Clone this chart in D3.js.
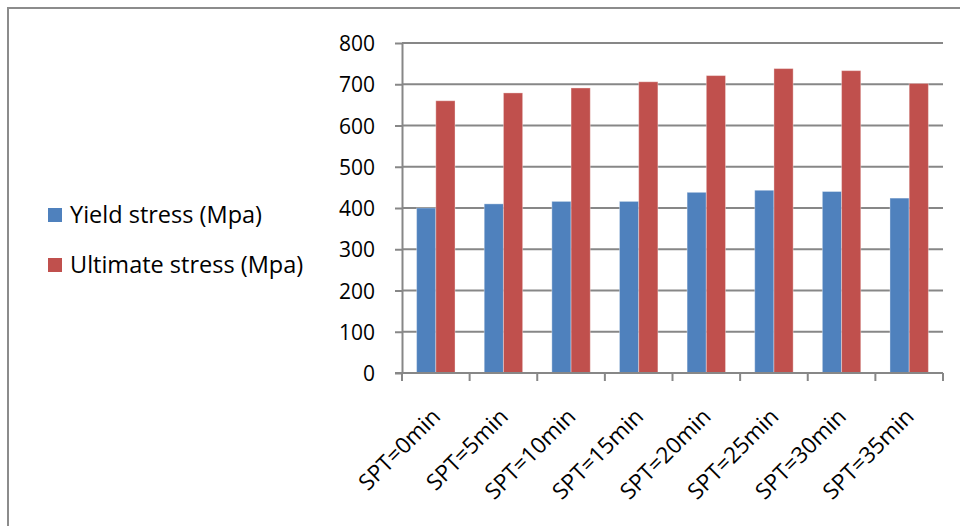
<!DOCTYPE html>
<html>
<head>
<meta charset="utf-8">
<script src="https://cdn.jsdelivr.net/npm/d3@7"></script>
<style>
  html, body { margin: 0; padding: 0; background: #fff; }
  svg { display: block; }
  text { font-family: "Open Sans", "Noto Sans", "Liberation Sans", sans-serif; fill: #000; }
</style>
</head>
<body>
<svg id="chart" width="960" height="526"></svg>
<script>
// Stress measurements per soaking period
const categories = ["SPT=0min", "SPT=5min", "SPT=10min", "SPT=15min", "SPT=20min", "SPT=25min", "SPT=30min", "SPT=35min"];
const seriesNames = ["Yield stress (Mpa)", "Ultimate stress (Mpa)"];
const yieldStress = [400, 410, 416, 416, 438, 443, 440, 424];
const ultimateStress = [660, 679, 691, 706, 721, 738, 733, 702];
const yTicks = [0, 100, 200, 300, 400, 500, 600, 700, 800];
const colors = ["#4F81BD", "#C0504D"];

const svg = d3.select("#chart");
const W = 960, H = 526;
const plot = { left: 402, right: 943, top: 43, bottom: 373 };

// outer frame
svg.append("rect")
  .attr("x", 8).attr("y", 8)
  .attr("width", W + 20).attr("height", H + 20)
  .attr("fill", "none").attr("stroke", "#8c8c8c").attr("stroke-width", 2);

const x = d3.scaleBand().domain(categories).range([plot.left, plot.right]).padding(0);
const sub = d3.scaleBand().domain(seriesNames).range([0, x.bandwidth()]).paddingInner(0).paddingOuter(0.76);
const y = d3.scaleLinear().domain([0, 800]).range([plot.bottom, plot.top]);

// horizontal gridlines
svg.append("g").selectAll("line").data(yTicks.filter(d => d > 0)).join("line")
  .attr("x1", plot.left).attr("x2", plot.right)
  .attr("y1", d => y(d)).attr("y2", d => y(d))
  .attr("stroke", "#878787").attr("stroke-width", 2);

// bars
const series = [yieldStress, ultimateStress];
const groups = svg.append("g").selectAll("g").data(categories).join("g")
  .attr("transform", d => `translate(${x(d)},0)`);
groups.selectAll("rect").data((c, i) => seriesNames.map((s, k) => ({ s, k, v: series[k][i] }))).join("rect")
  .attr("x", d => sub(d.s))
  .attr("width", sub.bandwidth())
  .attr("y", d => y(d.v))
  .attr("height", d => y(0) - y(d.v))
  .attr("fill", d => colors[d.k])
  .attr("stroke", "rgba(255,255,255,0.35)").attr("stroke-width", 1);

// y axis
const yAxis = d3.axisLeft(y).tickValues(yTicks).tickSize(7).tickSizeOuter(0);
const yg = svg.append("g").attr("transform", `translate(${plot.left},0)`).call(yAxis);
yg.select(".domain").attr("stroke", "#878787").attr("stroke-width", 2);
yg.selectAll(".tick line").attr("stroke", "#878787").attr("stroke-width", 2);
yg.selectAll(".tick text").attr("font-size", 21).attr("dy", "0.36em").attr("x", -27)
  .attr("font-family", null);

// x axis with boundary ticks
const xg = svg.append("g").attr("transform", `translate(0,${plot.bottom})`);
xg.append("line").attr("x1", plot.left - 7).attr("x2", plot.right)
  .attr("stroke", "#878787").attr("stroke-width", 2);
const bounds = categories.map(c => x(c)).concat([plot.right]);
xg.selectAll("line.tk").data(bounds).join("line").attr("class", "tk")
  .attr("x1", d => d).attr("x2", d => d).attr("y1", 0).attr("y2", 8)
  .attr("stroke", "#878787").attr("stroke-width", 2);
xg.selectAll("text").data(categories).join("text")
  .attr("transform", d => `translate(${x(d) + x.bandwidth() / 2 + 6},${45}) rotate(-45)`)
  .attr("text-anchor", "end")
  .attr("font-size", 22.5)
  .text(d => d);

// legend
const lg = svg.append("g").selectAll("g").data(seriesNames).join("g")
  .attr("transform", (d, i) => `translate(48,${208 + i * 50})`);
lg.append("rect").attr("width", 14).attr("height", 14).attr("fill", (d, i) => colors[i]);
lg.append("text").attr("x", 22).attr("y", 7).attr("dy", "0.36em").attr("font-size", 23.5).text(d => d);
</script>
</body>
</html>
